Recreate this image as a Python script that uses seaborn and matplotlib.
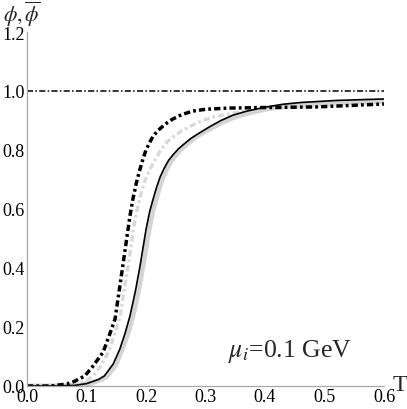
import numpy as np
import pandas as pd
import matplotlib
matplotlib.use("Agg")
import matplotlib.pyplot as plt
import seaborn as sns
from matplotlib.ticker import MultipleLocator

# ---- data ----
bs_T = [0.0, 0.05, 0.08, 0.10, 0.12, 0.13, 0.145, 0.156, 0.165, 0.173, 0.182, 0.190,
        0.200, 0.206, 0.212, 0.218, 0.224, 0.231, 0.238, 0.246, 0.255, 0.265, 0.276,
        0.290, 0.308, 0.326, 0.346, 0.37, 0.40, 0.43, 0.46, 0.52, 0.60]
bs_phi = [0.0, 0.0, 0.002, 0.008, 0.022, 0.034, 0.075, 0.125, 0.18, 0.237, 0.32, 0.407,
          0.53, 0.59, 0.634, 0.675, 0.71, 0.74, 0.765, 0.785, 0.805, 0.822, 0.84,
          0.858, 0.88, 0.90, 0.918, 0.932, 0.945, 0.955, 0.961, 0.968, 0.973]

gs_T = [0.0, 0.05, 0.085, 0.105, 0.125, 0.135, 0.15, 0.16, 0.17, 0.178, 0.187, 0.195,
        0.205, 0.211, 0.217, 0.223, 0.229, 0.236, 0.243, 0.251, 0.260, 0.270, 0.281,
        0.295, 0.313, 0.331, 0.351, 0.375, 0.405, 0.435, 0.465, 0.52, 0.60]
gs_phi = [0.0, 0.0, 0.002, 0.008, 0.022, 0.034, 0.075, 0.125, 0.18, 0.237, 0.32, 0.407,
          0.53, 0.59, 0.634, 0.675, 0.71, 0.74, 0.765, 0.785, 0.805, 0.822, 0.84,
          0.858, 0.878, 0.897, 0.913, 0.927, 0.94, 0.948, 0.954, 0.96, 0.965]

bd_T = [0.0, 0.04, 0.067, 0.08, 0.097, 0.11, 0.128, 0.138, 0.148, 0.161, 0.173, 0.178,
        0.184, 0.19, 0.195, 0.20, 0.206, 0.212, 0.22, 0.228, 0.236, 0.245, 0.26,
        0.279, 0.30, 0.336, 0.40, 0.487, 0.60]
bd_phi = [0.0, 0.0, 0.007, 0.016, 0.034, 0.065, 0.115, 0.17, 0.227, 0.407, 0.576, 0.634,
          0.69, 0.736, 0.77, 0.80, 0.825, 0.847, 0.866, 0.88, 0.893, 0.905, 0.92,
          0.932, 0.938, 0.942, 0.944, 0.946, 0.956]

gd_T = [0.0, 0.05, 0.084, 0.10, 0.111, 0.125, 0.138, 0.156, 0.170, 0.181, 0.190, 0.198,
        0.207, 0.216, 0.225, 0.235, 0.248, 0.26, 0.274, 0.292, 0.313, 0.36, 0.42,
        0.50, 0.60]
gd_phi = [0.0, 0.0, 0.007, 0.018, 0.034, 0.07, 0.12, 0.232, 0.407, 0.56, 0.64, 0.695,
          0.736, 0.77, 0.80, 0.827, 0.848, 0.865, 0.88, 0.897, 0.912, 0.93, 0.942,
          0.95, 0.957]

ref_T = [0.0, 0.6]
ref_phi = [1.0, 1.0]

x_ticks = [0.0, 0.1, 0.2, 0.3, 0.4, 0.5, 0.6]
x_labels = ["0.0", "0.1", "0.2", "0.3", "0.4", "0.5", "0.6"]
y_ticks = [0.0, 0.2, 0.4, 0.6, 0.8, 1.0, 1.2]
y_labels = ["0.0", "0.2", "0.4", "0.6", "0.8", "1.0", "1.2"]

# ---- style ----
sns.set_theme(style="white")
plt.rcParams["font.family"] = ["Liberation Serif", "DejaVu Serif"]
plt.rcParams["mathtext.fontset"] = "stix"

fig = plt.figure(figsize=(4.07, 4.10), dpi=100)
ax = fig.add_axes([27 / 407, 1 - 387 / 410, 357 / 407, 354 / 410])

gray_axis = "#a8a8a8"

sns.lineplot(x=gs_T, y=gs_phi, ax=ax, color="#d4d4d4", lw=3.6, sort=False,
             estimator=None, solid_capstyle="round")
sns.lineplot(x=gd_T, y=gd_phi, ax=ax, color="#d9d9d9", lw=2.4, sort=False,
             estimator=None, linestyle=(0, (1.9, 0.9, 0.8, 0.9)))
sns.lineplot(x=bs_T, y=bs_phi, ax=ax, color="black", lw=1.2, sort=False, estimator=None)
sns.lineplot(x=bd_T, y=bd_phi, ax=ax, color="black", lw=2.5, sort=False,
             estimator=None, linestyle=(0, (1.8, 0.9, 0.8, 0.9)))
sns.lineplot(x=ref_T, y=ref_phi, ax=ax, color="black", lw=1.1, sort=False,
             estimator=None, linestyle=(0, (4, 1.5, 1, 1.5)))

ax.set_xlim(0, 0.6)
ax.set_ylim(0, 1.2)
ax.set_xticks(x_ticks)
ax.set_xticklabels(x_labels)
ax.set_yticks(y_ticks)
ax.set_yticklabels(y_labels)
ax.xaxis.set_minor_locator(MultipleLocator(0.02))
ax.yaxis.set_minor_locator(MultipleLocator(0.05))

for s in ["top", "right"]:
    ax.spines[s].set_visible(False)
for s in ["left", "bottom"]:
    ax.spines[s].set_color(gray_axis)
    ax.spines[s].set_linewidth(0.9)

ax.tick_params(which="major", direction="in", length=3.5, width=0.8, color=gray_axis,
               labelsize=13, labelcolor="black", pad=1.5)
ax.tick_params(which="minor", direction="in", length=2.0, width=0.6, color=gray_axis)
ax.set_xlabel("")
ax.set_ylabel("")

ax.text(1.024, -0.012, "T", transform=ax.transAxes, fontsize=17.5,
        ha="left", va="baseline")
ax.text(-0.066, 1.032, r"$\phi, \overline{\phi}$", transform=ax.transAxes,
        fontsize=15.5, ha="left", va="baseline")
ax.text(0.442, 0.119, r"$\mu_i$=0.1 GeV", transform=ax.transData, fontsize=18.5,
        ha="center", va="center")

fig.savefig("out.png", dpi=100)
